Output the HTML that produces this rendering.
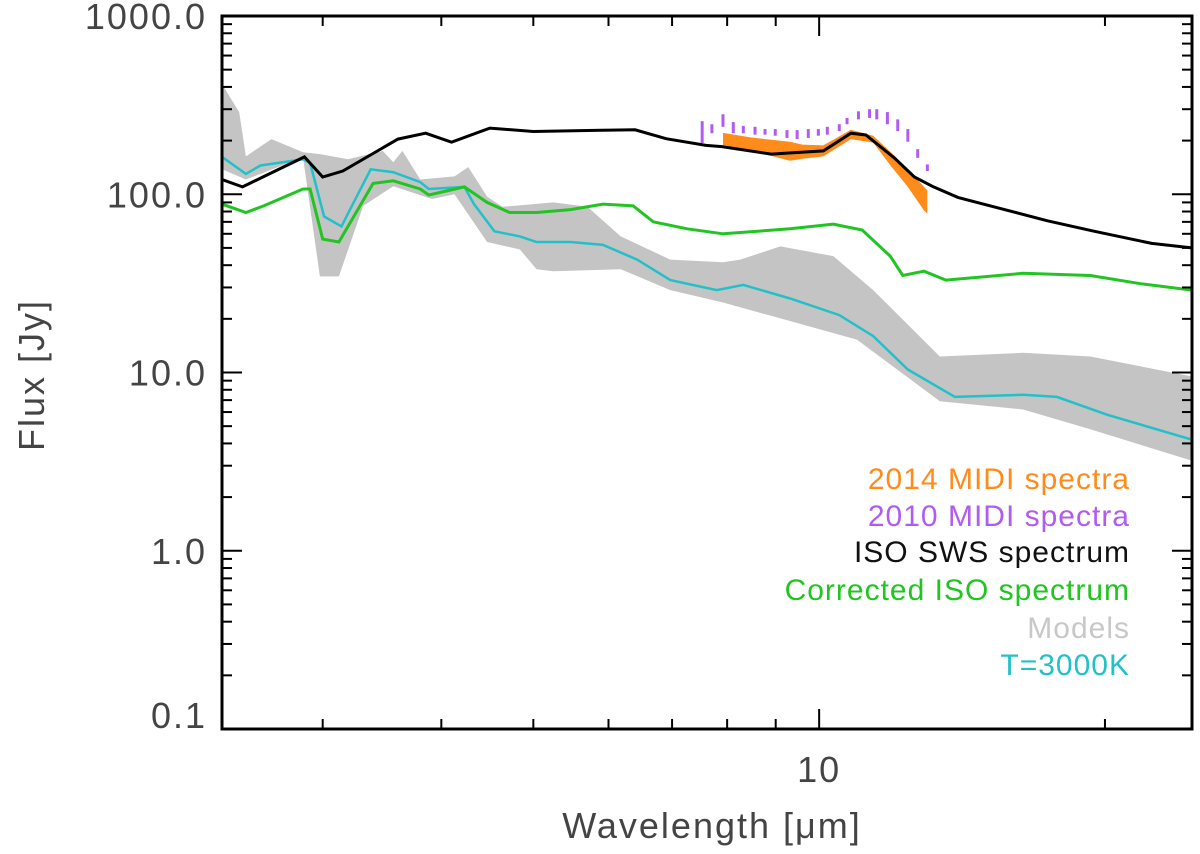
<!DOCTYPE html>
<html><head><meta charset="utf-8"><style>
html,body{margin:0;padding:0;background:#fff}
svg{display:block}
text{font-family:"Liberation Sans",sans-serif}
</style></head><body>
<svg id="chart" width="1200" height="854" viewBox="0 0 1200 854" xmlns="http://www.w3.org/2000/svg">
<g id="marks"></g>
<g id="axes"></g>
<text x="0" y="0" transform="translate(44,375) rotate(-90)" text-anchor="middle" font-size="36" fill="#444" letter-spacing="2">Flux [Jy]</text>
<text x="712" y="838" text-anchor="middle" font-size="36" fill="#444" letter-spacing="2">Wavelength [μm]</text>
<g font-size="30" text-anchor="end" letter-spacing="1">
<text x="1130" y="489" fill="#ff8c1a">2014 MIDI spectra</text>
<text x="1130" y="526" fill="#b05cf0">2010 MIDI spectra</text>
<text x="1130" y="562" fill="#111">ISO SWS spectrum</text>
<text x="1130" y="600" fill="#22c422">Corrected ISO spectrum</text>
<text x="1130" y="638" fill="#c8c8c8">Models</text>
<text x="1130" y="675" fill="#22c0c8">T=3000K</text>
</g>
</svg>
<script>
const xTickLabels=["10"];
const xTickValues=[10];
const yTickLabels=["1000.0","100.0","10.0","1.0","0.1"];
const yTickValues=[1000,100,10,1,0.1];
const isoW=[2.35,2.47,2.87,3.0,3.15,3.6,3.85,4.1,4.5,5.0,5.8,6.4,6.9,7.6,7.9,8.9,10.1,10.8,11.2,12.0,12.6,13.2,14.0,15.4,17.4,19.5,22.4,24.7];
const isoF=[121,110,162,125,135,204,220,196,235,225,228,230,205,188,185,168,175,220,215,160,125,110,96,84,71,62,53,50];
const corW=[2.35,2.49,2.60,2.86,2.91,3.0,3.12,3.39,3.56,3.80,3.88,4.23,4.47,4.72,5.04,5.47,5.92,6.37,6.69,7.26,7.92,9.32,10.35,11.1,11.88,12.25,12.9,13.6,16.4,19.3,21.8,24.7];
const corF=[88,79,86,107,107,56,54,115,119,107,99,110,90,79,79,82,88,86,70,64,60,64,68,63,45,35,37,33,36,35,31.5,29];
const tW=[2.35,2.49,2.58,2.86,2.91,3.01,3.14,3.19,3.37,3.56,3.80,3.88,4.23,4.33,4.55,4.84,5.04,5.47,5.92,6.43,6.97,7.80,8.32,9.32,10.5,11.4,12.4,13.9,16.4,17.8,20.1,24.7];
const tF=[162,130,145,157,150,75,66,78,138,133,117,107,110,88,62,58,54,54,52,43,33,29,31,26,21,16,10.4,7.3,7.5,7.3,5.8,4.2];
const modUpW=[2.35,2.45,2.49,2.65,2.86,2.98,3.19,3.47,3.56,3.64,3.80,4.13,4.27,4.47,4.64,5.25,5.70,6.18,6.97,7.92,8.26,9.10,10.35,11.4,13.4,16.4,19.3,24.7];
const modUpF=[415,289,163,204,172,168,157,175,151,175,121,126,142,97,85,90,85,58,43,41.5,43,51,45,29,12.3,12.9,12.3,9.5];
const modLoW=[2.35,2.49,2.86,2.98,3.12,3.31,3.56,3.91,4.13,4.47,4.84,5.04,5.25,6.18,6.97,7.92,10.96,13.4,16.4,19.3,24.7];
const modLoF=[138,121,161,34.6,34.6,86,111,94,100,54,49,38,37,38,29,24.7,15.3,6.9,6.2,4.8,3.2];
const m10W=[7.53,7.71,7.92,8.12,8.32,8.56,8.77,8.99,9.25,9.48,9.74,9.98,10.2,10.5,10.7,11.0,11.3,11.5,11.8,12.1,12.4,12.7,13.0];
const m10Hi=[257,247,281,254,242,239,232,232,229,229,232,232,239,247,268,292,300,300,289,263,232,179,147];
const m10Lo=[194,220,239,220,220,216,216,213,207,204,207,213,216,226,247,263,268,263,247,226,197,160,135];
const m14W=[7.92,8.5,9.32,9.6,10.1,10.8,11.4,11.9,12.4,12.9,13.0];
const m14Hi=[221,208,197,190,188,230,213,172,138,110,105];
const m14Lo=[189,175,154,158,163,204,195,144,110,81,78];

const X0=222,X1=1192,Y0=729,Y1=16;
const lx0=Math.log10(2.35),lx1=Math.log10(24.7);
function xs(v){return X0+(Math.log10(v)-lx0)/(lx1-lx0)*(X1-X0);}
function ys(v){return Y0-(Math.log10(v)+1)/4*(Y0-Y1);}
const NS="http://www.w3.org/2000/svg";
const marks=document.getElementById('marks'),axes=document.getElementById('axes');
function mk(tag,attrs,parent){const e=document.createElementNS(NS,tag);for(const k in attrs)e.setAttribute(k,attrs[k]);parent.appendChild(e);return e;}
function pts(W,F){return W.map((w,i)=>xs(w).toFixed(1)+','+ys(F[i]).toFixed(1));}

const clip=mk('clipPath',{id:'pc'},marks);
mk('rect',{x:X0,y:Y1,width:X1-X0,height:Y0-Y1},clip);
const g=mk('g',{'clip-path':'url(#pc)'},marks);

const band=mk('polygon',{points:pts(modUpW,modUpF).concat(pts(modLoW,modLoF).reverse()).join(' '),fill:'#c4c4c4'},g);



const tl=mk('polyline',{points:pts(tW,tF).join(' '),fill:'none',stroke:'#22c0c8','stroke-width':2.5},g);



const cl=mk('polyline',{points:pts(corW,corF).join(' '),fill:'none',stroke:'#22c422','stroke-width':3},g);



const ob=mk('polygon',{points:pts(m14W,m14Hi).concat(pts(m14W,m14Lo).reverse()).join(' '),fill:'#ff8c1a'},g);



m10W.forEach((w,i)=>{
  const b=mk('line',{x1:xs(w),x2:xs(w),y1:ys(m10Hi[i]),y2:ys(m10Lo[i]),stroke:'#b05cf0','stroke-width':3},g);
  
  
});

const il=mk('polyline',{points:pts(isoW,isoF).join(' '),fill:'none',stroke:'#000','stroke-width':3},g);



// axes frame
const fr=mk('rect',{x:X0,y:Y1,width:X1-X0,height:Y0-Y1,fill:'none',stroke:'#000','stroke-width':3},axes);


// y ticks
for(let d=-1;d<3;d++){for(let m=1;m<10;m++){const v=m*Math.pow(10,d);const y=ys(v);const L=m===1?20:10;
  mk('line',{x1:X0,x2:X0+L,y1:y,y2:y,stroke:'#000','stroke-width':2},axes);
  mk('line',{x1:X1,x2:X1-L,y1:y,y2:y,stroke:'#000','stroke-width':2},axes);}}
yTickValues.forEach((v,i)=>{
  let y=ys(v)+13; if(v===0.1)y=ys(v)-1;
  const t=mk('text',{x:207,y:y,'text-anchor':'end','font-size':36,fill:'#444','letter-spacing':2},axes);
  t.textContent=yTickLabels[i];
  
  
});
// x ticks
for(let d=0;d<2;d++){for(let m=1;m<10;m++){const v=m*Math.pow(10,d);if(v<2.35||v>24.7)continue;const x=xs(v);const L=m===1?20:10;
  mk('line',{x1:x,x2:x,y1:Y0,y2:Y0-L,stroke:'#000','stroke-width':2},axes);
  mk('line',{x1:x,x2:x,y1:Y1,y2:Y1+L,stroke:'#000','stroke-width':2},axes);}}
xTickValues.forEach((v,i)=>{
  const t=mk('text',{x:xs(v),y:782,'text-anchor':'middle','font-size':36,fill:'#444','letter-spacing':2},axes);
  t.textContent=xTickLabels[i];
  
  
});
</script>
</body></html>
